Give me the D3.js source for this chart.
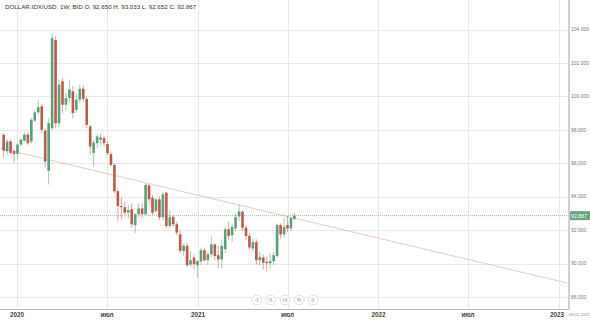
<!DOCTYPE html>
<html>
<head>
<meta charset="utf-8">
<script src="https://cdn.jsdelivr.net/npm/d3@7"></script>
<style>
  body { margin: 0; background: #fff; }
  svg { display: block; font-family: "Liberation Sans", Arial, sans-serif; }
</style>
</head>
<body>
<svg id="chart"></svg>
<script>
// weekly candles, first week starts 2019-12-09
let firstWeek = new Date(2019, 11, 9)
let opens  = [97.70,96.72,97.31,96.72,96.56,97.12,97.35,97.71,97.30,98.55,99.05,99.40,97.95,95.55,98.10,103.37,98.40,100.90,99.50,99.90,
              100.30,99.20,99.80,100.45,99.85,98.20,96.62,97.20,97.40,97.50,97.15,96.55,95.90,94.33,93.44,93.37,93.05,93.25,92.30,92.95,
              93.30,92.95,94.67,93.94,93.14,93.84,92.77,94.24,92.25,92.77,92.35,91.75,90.76,91.06,89.95,90.35,89.90,90.13,90.80,90.20,
              90.55,91.15,90.50,90.25,90.86,92.05,91.70,92.10,92.82,93.10,92.15,91.65,90.90,91.28,90.20,90.36,90.10,90.02,90.15,90.46,
              92.30,91.75,92.30,92.10,92.65]
let highs  = [97.80,97.45,97.40,96.85,97.25,97.50,97.85,97.85,98.70,99.15,99.80,99.55,98.10,98.70,103.77,103.60,101.00,101.10,100.20,101.00,
              100.60,100.10,100.70,100.65,100.00,98.30,97.40,97.75,97.75,97.65,97.30,96.70,96.00,94.50,93.96,93.70,93.50,93.60,93.00,93.60,
              93.60,94.80,94.75,94.10,93.90,94.00,94.30,94.30,93.20,92.90,92.50,92.00,91.20,91.20,90.70,90.55,90.20,90.95,90.95,90.75,
              91.60,91.20,91.05,91.45,92.20,92.50,92.40,93.00,93.55,93.20,92.30,91.80,91.50,91.45,90.70,90.55,90.40,90.60,90.70,92.40,
              92.40,92.75,92.85,92.80,93.03]
let lows   = [96.35,96.50,96.55,96.03,96.25,97.05,97.30,97.10,97.20,98.45,98.95,97.80,95.75,94.73,98.00,98.10,98.20,99.00,99.10,99.60,
              98.70,99.00,99.60,99.65,98.10,96.50,95.80,96.90,97.10,97.00,96.50,95.80,94.20,92.55,92.65,92.90,92.70,92.15,91.80,92.75,
              92.70,92.90,93.60,92.90,93.00,92.60,92.60,92.10,92.10,92.20,91.70,90.60,90.50,89.80,89.80,89.60,89.17,89.90,90.10,89.90,
              90.40,90.20,89.70,89.70,90.65,91.40,91.30,91.90,92.55,91.95,91.40,90.80,90.70,89.95,89.90,89.65,89.57,89.65,89.90,90.35,
              91.50,91.55,91.90,91.95,92.65]
let closes = [96.75,97.31,96.62,96.56,97.12,97.41,97.71,97.20,98.60,99.05,99.35,98.00,96.10,98.40,103.50,98.40,100.70,99.50,99.90,100.40,
              99.00,99.80,100.45,99.85,98.30,97.00,97.24,97.60,97.55,97.20,96.60,95.90,94.33,93.44,93.37,93.05,93.20,92.35,92.95,93.30,
              92.95,94.70,93.84,93.04,93.84,92.77,94.14,92.25,92.77,92.35,91.85,90.76,91.06,89.90,90.20,89.97,90.15,90.80,90.20,90.55,
              91.15,90.45,90.25,91.06,92.05,91.65,92.20,92.78,93.12,92.15,91.65,90.96,91.28,90.20,90.40,90.05,90.02,90.15,90.50,92.30,
              91.75,92.20,92.10,92.72,92.867]

let yTicks = [88, 90, 92, 94, 96, 98, 100, 102, 104]
let xTickDates = ['2020-01-01', '2020-07-01', '2021-01-01', '2021-07-01', '2022-01-01', '2022-07-01', '2023-01-01']
let xTickLabels = ['2020', 'июл', '2021', 'июл', '2022', 'июл', '2023']
let trendDates = ['2019-11-28', '2023-01-17']
let trendValues = [96.9, 88.84]
let lastPrice = 92.867
let header = 'DOLLAR.IDX/USD, 1W, BID  O. 92.650 H. 93.033 L. 92.652 C. 92.867'
let cursorDate = '28.01.2023'

let w = 590, h = 320
let m = {l: 0, r: 22, t: 0, b: 11}
let parse = d3.timeParse('%Y-%m-%d')

let svg = d3.select('#chart').attr('width', w).attr('height', h)

let x = d3.scaleTime()
    .domain([parse('2020-01-01'), parse('2023-01-01')])
    .range([17, 559])
let y = d3.scaleLinear()
    .domain([88, 104])
    .range([297, 29.5])

let plotR = w - m.r, plotB = h - m.b

let candles = opens.map((o, i) => ({
    date: d3.timeDay.offset(firstWeek, 7 * i - 4),
    o, h: highs[i], l: lows[i], c: closes[i]
}))

// grid
let grid = svg.append('g').attr('id', 'grid')
grid.selectAll('line.hg')
    .data(yTicks)
    .join('line')
    .attr('class', 'hg')
    .attr('x1', 0).attr('x2', plotR)
    .attr('y1', d => Math.round(y(d)) + 0.5).attr('y2', d => Math.round(y(d)) + 0.5)
    .attr('stroke', '#e9e9e9')
grid.selectAll('line.vg')
    .data(xTickDates)
    .join('line')
    .attr('class', 'vg')
    .attr('x1', d => Math.round(x(parse(d))) + 0.5).attr('x2', d => Math.round(x(parse(d))) + 0.5)
    .attr('y1', 0).attr('y2', plotB)
    .attr('stroke', '#e9e9e9')

// price line (dotted)
svg.append('line')
    .attr('x1', 0).attr('x2', plotR)
    .attr('y1', y(lastPrice)).attr('y2', y(lastPrice))
    .attr('stroke', '#a9c2b2')
    .attr('stroke-dasharray', '1,1')

// trend line
svg.append('clipPath').attr('id', 'plotClip')
    .append('rect').attr('x', 0).attr('y', 0).attr('width', plotR).attr('height', plotB)
svg.append('path')
    .datum(trendDates.map((d, i) => ({date: parse(d), v: trendValues[i]})))
    .attr('clip-path', 'url(#plotClip)')
    .attr('fill', 'none')
    .attr('stroke', '#e5a48f')
    .attr('stroke-opacity', 0.85)
    .attr('stroke-width', 0.7)
    .attr('d', d3.line().x(d => x(d.date)).y(d => y(d.v)))

// candles
let up = '#5f9d79', down = '#b75c4d'
let cg = svg.append('g').attr('id', 'candles')
let bw = 2.6
cg.selectAll('line')
    .data(candles)
    .join('line')
    .attr('x1', d => x(d.date)).attr('x2', d => x(d.date))
    .attr('y1', d => y(d.h)).attr('y2', d => y(d.l))
    .attr('stroke', d => d.c >= d.o ? up : down)
    .attr('stroke-opacity', 0.6)
    .attr('stroke-width', 0.9)
cg.selectAll('rect')
    .data(candles)
    .join('rect')
    .attr('x', d => x(d.date) - bw / 2)
    .attr('width', bw)
    .attr('y', d => y(Math.max(d.o, d.c)))
    .attr('height', d => Math.max(1, Math.abs(y(d.o) - y(d.c))))
    .attr('fill', d => d.c >= d.o ? up : down)

// borders
svg.append('line')
    .attr('x1', 0).attr('x2', plotR)
    .attr('y1', plotB + 0.5).attr('y2', plotB + 0.5)
    .attr('stroke', '#b8b8b8')
svg.append('line')
    .attr('x1', plotR + 1).attr('x2', plotR + 1)
    .attr('y1', 0).attr('y2', plotB + 1)
    .attr('stroke', '#cfcfcf')
    .attr('stroke-width', 2)

// y labels
svg.append('g')
    .selectAll('text')
    .data(yTicks)
    .join('text')
    .attr('x', plotR + 3)
    .attr('y', d => y(d) + 1.8)
    .attr('font-size', 5)
    .attr('fill', '#777')
    .text(d => d3.format('.3f')(d))

// last price label
svg.append('rect')
    .attr('x', plotR + 2).attr('y', y(lastPrice) - 4.5)
    .attr('width', w - plotR - 2).attr('height', 9)
    .attr('fill', '#6aa482')
svg.append('text')
    .attr('x', plotR + 3).attr('y', y(lastPrice) + 2)
    .attr('font-size', 5.3)
    .attr('fill', '#fff')
    .text(d3.format('.3f')(lastPrice))

// x labels
svg.append('g')
    .selectAll('text')
    .data(xTickDates)
    .join('text')
    .attr('x', (d, i) => x(parse(d)) - (i == 6 ? 2 : 0))
    .attr('y', plotB + 7.5)
    .attr('text-anchor', 'middle')
    .attr('font-size', 6.3)
    .attr('font-weight', 'bold')
    .attr('fill', '#444')
    .text((d, i) => xTickLabels[i])

svg.append('text')
    .attr('x', w - 0.5).attr('y', plotB + 7)
    .attr('text-anchor', 'end')
    .attr('font-size', 4.1)
    .attr('fill', '#888')
    .text(cursorDate)

// header
svg.append('text')
    .attr('x', 5).attr('y', 9)
    .attr('font-size', 6.2)
    .attr('fill', '#333')
    .text(header)

// navigation buttons
let navX = [256.7, 270.7, 285, 299.3, 313.3]
let nav = svg.append('g').attr('id', 'nav')
    .selectAll('g')
    .data(navX)
    .join('g')
    .attr('transform', d => `translate(${d}, 300)`)
nav.append('circle')
    .attr('r', 4.8)
    .attr('fill', '#fff')
    .attr('stroke', '#d6d6d6')
    .attr('stroke-width', 0.8)
let icon = {stroke: '#b0b0b0', sw: 0.7}
nav.each(function(d, i) {
    let g = d3.select(this)
    if (i == 0) g.append('path').attr('d', 'M1.3,-1.8 L-1.5,0 L1.3,1.8 Z')
    if (i == 4) g.append('path').attr('d', 'M-1.3,-1.8 L1.5,0 L-1.3,1.8 Z')
    if (i == 1 || i == 3) {
        g.append('circle').attr('cx', -0.4).attr('cy', -0.4).attr('r', 1.6)
        g.append('path').attr('d', 'M0.8,0.8 L2,2 M-1.2,-0.4 L0.4,-0.4' + (i == 3 ? ' M-0.4,-1.2 L-0.4,0.4' : ''))
    }
    if (i == 2) g.append('path').attr('d', 'M-1.8,-1.8 L-1.8,1.8 M1.8,-1.8 L1.8,1.8 M-1.2,0 L1,-1.5 L1,1.5 Z')
    g.selectAll('path, circle:not(:first-child)')
        .attr('fill', 'none')
        .attr('stroke', icon.stroke)
        .attr('stroke-width', icon.sw)
})
</script>
</body>
</html>
